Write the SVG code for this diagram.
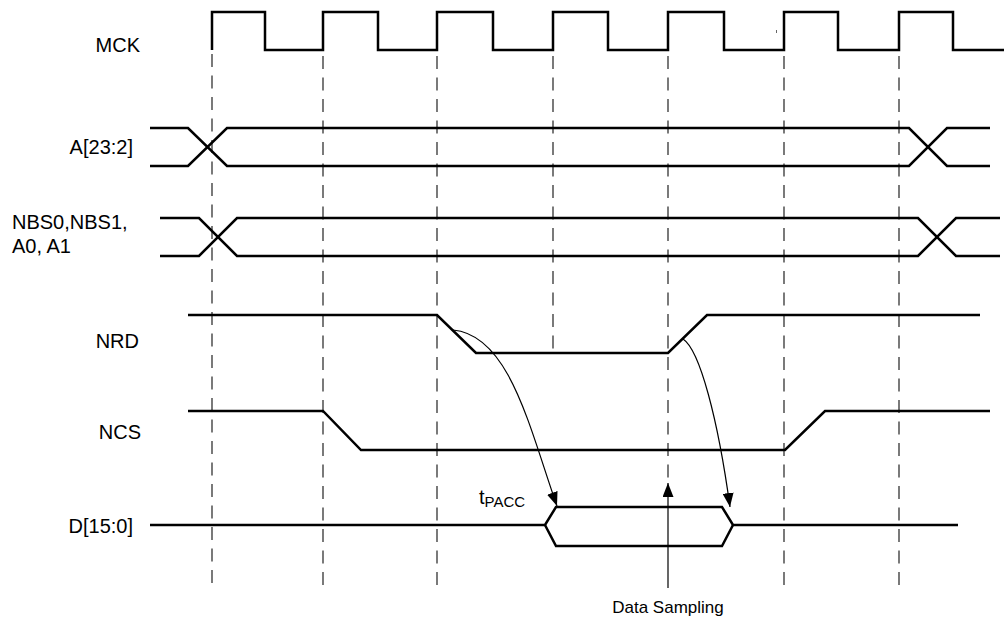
<svg xmlns="http://www.w3.org/2000/svg" width="1006" height="618" viewBox="0 0 1006 618">
  <defs>
    <style>
      .sig { fill: none; stroke: #000; stroke-width: 2.5; stroke-linejoin: miter; }
      .grid { fill: none; stroke: #333; stroke-width: 1.3; stroke-dasharray: 13 8.5; }
      .conn { fill: none; stroke: #000; stroke-width: 1.2; }
      .lbl { font-family: "Liberation Sans", Arial, sans-serif; font-size: 20px; fill: #000; }
      .note { font-family: "Liberation Sans", Arial, sans-serif; font-size: 17px; fill: #000; }
    </style>
    <marker id="ah" viewBox="0 0 14 11" refX="14" refY="5.5" markerWidth="14" markerHeight="11" markerUnits="userSpaceOnUse" orient="auto">
      <path d="M0,0 L14,5.5 L0,11 Z" fill="#000"/>
    </marker>
  </defs>
  <rect width="1006" height="618" fill="#fff"/>

  <g id="gridlines">
    <line class="grid" x1="212" y1="54" x2="212" y2="590"/>
    <line class="grid" x1="323" y1="56" x2="323" y2="590"/>
    <line class="grid" x1="437" y1="56" x2="437" y2="590"/>
    <line class="grid" x1="553" y1="56" x2="553" y2="353"/>
    <line class="grid" x1="668" y1="56" x2="668" y2="480"/>
    <line class="grid" x1="784" y1="56" x2="784" y2="588"/>
    <line class="grid" x1="899" y1="56" x2="899" y2="588"/>
    <line x1="776.5" y1="30" x2="776.5" y2="33" stroke="#666" stroke-width="1"/>
  </g>

  <g id="mck">
    <text class="lbl" x="140" y="52" text-anchor="end">MCK</text>
    <path class="sig" d="M212,50 V12 H265 V50 H323 V12 H378 V50 H437 V12 H493 V50 H553 V12 H608 V50 H668 V12 H724 V50 H784 V12 H838 V50 H899 V12 H953 V50 H1004"/>
  </g>

  <g id="addr">
    <text class="lbl" x="133" y="154" text-anchor="end">A[23:2]</text>
    <path class="sig" d="M150,128 H188 L227,166 H909 L947,128 H990"/>
    <path class="sig" d="M150,166 H188 L227,128 H909 L947,166 H990"/>
  </g>

  <g id="nbs">
    <text class="lbl" x="12" y="229">NBS0,NBS1,</text>
    <text class="lbl" x="12" y="253">A0, A1</text>
    <path class="sig" d="M160,218 H199 L237,256 H918 L956,218 H1000"/>
    <path class="sig" d="M160,256 H199 L237,218 H918 L956,256 H1000"/>
  </g>

  <g id="nrd">
    <text class="lbl" x="139" y="348" text-anchor="end">NRD</text>
    <path class="sig" d="M188,315 H437 L476,353 H668 L707,315 H980"/>
  </g>

  <g id="ncs">
    <text class="lbl" x="141" y="439" text-anchor="end">NCS</text>
    <path class="sig" d="M188,411 H323 L361,450 H785 L825,411 H990"/>
  </g>

  <g id="data">
    <text class="lbl" x="133" y="533" text-anchor="end">D[15:0]</text>
    <path class="sig" d="M150,525 H545 L556,507 H722 L733,525 H958"/>
    <path class="sig" d="M545,525 L556,546 H722 L733,525"/>
  </g>

  <g id="tpacc">
    <text class="lbl" x="479" y="504">t<tspan font-size="15" dy="3">PACC</tspan></text>
  </g>

  <g id="sampling">
    <text class="note" x="668" y="613" text-anchor="middle">Data Sampling</text>
  </g>

  <g id="connectors">
    <path class="conn" d="M453,330 C510,335 530,430 557,506" marker-end="url(#ah)"/>
    <path class="conn" d="M683,339 C700,350 718,420 730,507" marker-end="url(#ah)"/>
    <path class="conn" d="M668,588 V483" marker-end="url(#ah)"/>
  </g>
</svg>
